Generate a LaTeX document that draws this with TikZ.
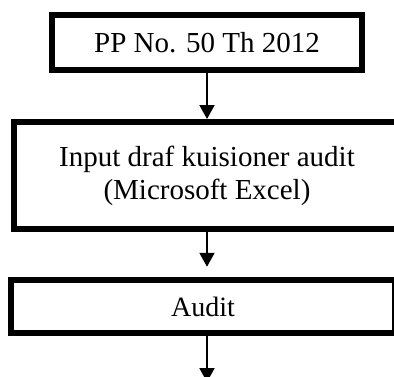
\documentclass[tikz,border=0pt]{standalone}
\usepackage{fontspec}
\setmainfont{Liberation Serif}
\usetikzlibrary{arrows.meta}

\begin{document}
\begin{tikzpicture}[x=1pt, y=1pt,
    box/.style={draw, line width=6pt, align=center, inner sep=0pt,
      font=\fontsize{29}{33}\selectfont},
    flow/.style={-{Triangle[width=15pt,length=14pt]}, line width=2pt}]
      % Frame
      \useasboundingbox (0,0) rectangle (394,-376);
      % Boxes
      \node[box, minimum width=310pt, minimum height=55pt] (pp) at (207,-42.3) {PP No. 50 Th 2012};
      \node[box, minimum width=386pt, minimum height=107pt] (input) at (207,-175.5)
        {Input draf kuisioner audit\\(Microsoft Excel)};
      \node[box, minimum width=384pt, minimum height=53pt, line width=6.5pt,
        font=\fontsize{28}{32}\selectfont] (audit) at (203,-306.5) {\raisebox{-3pt}{Audit}};
      % Arrows
      \coordinate (end) at (207,-382);
      \draw[flow] (pp.south) -- (input.north);
      \draw[flow, shorten >=10pt] (input.south) -- (input.south |- audit.north);
      \draw[flow] (input.south |- audit.south) -- (end);
\end{tikzpicture}
\end{document}
